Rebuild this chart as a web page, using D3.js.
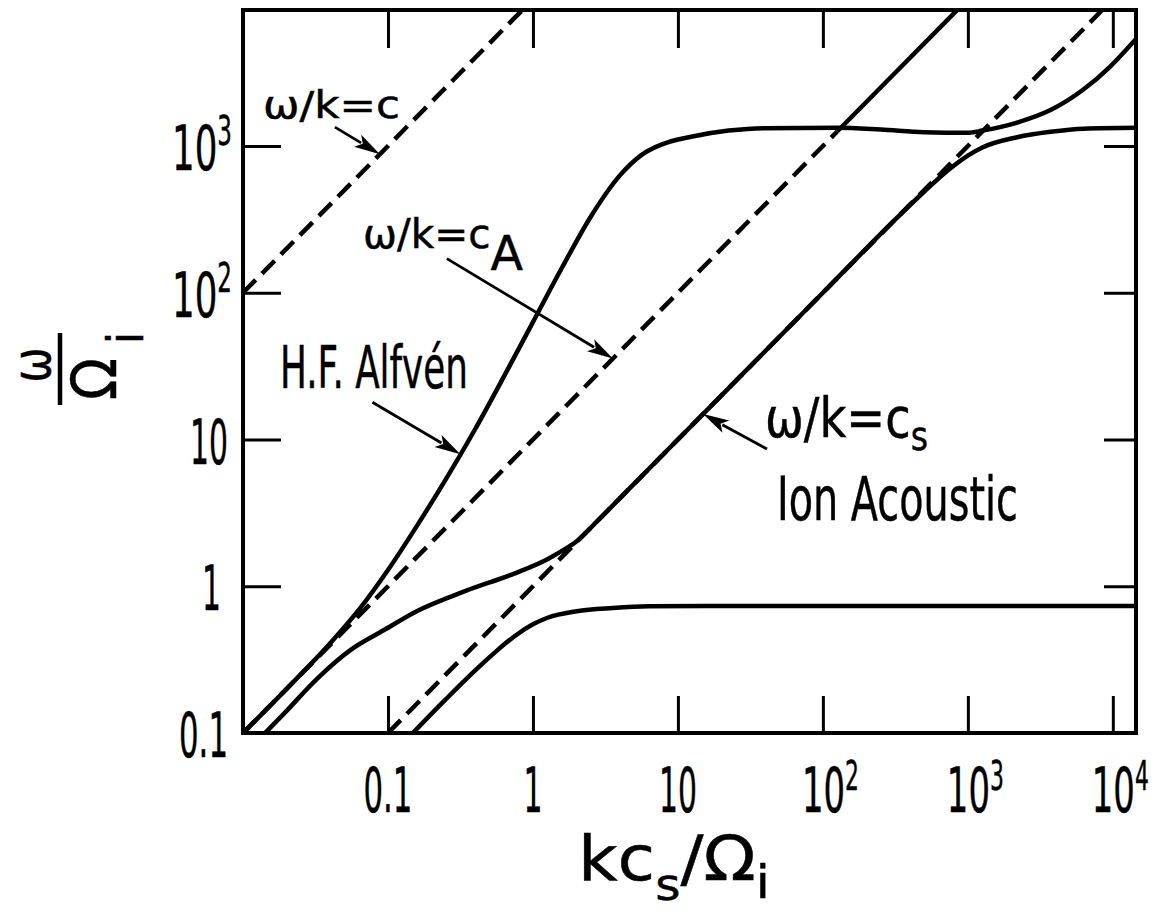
<!DOCTYPE html>
<html>
<head>
<meta charset="utf-8">
<script src="https://cdn.jsdelivr.net/npm/d3@7"></script>
<style>
  html, body { margin: 0; padding: 0; background: #fff; }
  svg { display: block; }
  text { font-family: "DejaVu Sans", "Liberation Sans", sans-serif; fill: #000; stroke: #000; stroke-width: 0.5; }
</style>
</head>
<body>
<svg id="chart" width="1154" height="911"></svg>
<script>
// ---- dispersion branches: k c_s / Ω_i  and  ω / Ω_i ----
const alfvenK = [0.01, 0.02, 0.0398, 0.0631, 0.1, 0.158, 0.251, 0.398, 0.631, 1, 1.585, 2.51, 3.98, 5.62, 7.94, 12.6, 22.4, 39.8, 126, 251, 501, 1000, 1259, 2188, 3715, 6166, 9550, 14450];
const alfvenW = [0.1, 0.2, 0.407, 0.692, 1.29, 2.57, 5.37, 11.7, 26.9, 63.1, 148, 331, 631, 871, 1035, 1161, 1274, 1324, 1330, 1294, 1242, 1230, 1274, 1445, 1758, 2399, 3467, 5370];

const ionAcousticK = [0.0142, 0.0191, 0.0324, 0.055, 0.0933, 0.158, 0.347, 0.759, 1.259, 1.585, 1.995, 2.82, 5, 10, 31.6, 100, 316, 501, 741, 1000, 1259, 2188, 3715, 6310, 14450];
const ionAcousticW = [0.1, 0.135, 0.234, 0.367, 0.501, 0.676, 0.933, 1.23, 1.53, 1.74, 2.02, 2.82, 5, 10, 31.6, 100, 316, 490, 692, 861, 977, 1148, 1250, 1312, 1330];

const lowerK = [0.1486, 0.251, 0.398, 0.562, 0.759, 1, 1.26, 2.0, 3.55, 6.3, 15.8, 14450];
const lowerW = [0.1, 0.17, 0.266, 0.363, 0.462, 0.55, 0.61, 0.676, 0.711, 0.73, 0.733, 0.733];

// ---- phase-velocity reference lines (end points) ----
const lightLineK = [0.01, 1];          // ω/k = c
const lightLineW = [100, 10000];
const alfvenLineK = [0.01, 126];       // ω/k = c_A (dashed part)
const alfvenLineW = [0.1, 1260];
const alfvenUpperK = [126, 1000];      // ω/k = c_A above the resonance (solid)
const alfvenUpperW = [1260, 10000];
const soundLineK = [0.1, 10000];       // ω/k = c_s
const soundLineW = [0.1, 10000];

// ---- axes ----
const xTicks = [0.1, 1, 10, 100, 1000, 10000];
const xTickLabels = [["0.1", ""], ["1", ""], ["10", ""], ["10", "2"], ["10", "3"], ["10", "4"]];
const yTicks = [0.1, 1, 10, 100, 1000];
const yTickLabels = [["0.1", ""], ["1", ""], ["10", ""], ["10", "2"], ["10", "3"]];

(function draw() {
  const zip = (a, b) => a.map((v, i) => [v, b[i]]);

  const svg = d3.select("#chart");
  const pLeft = 243, pRight = 1136, pTop = 10, pBottom = 733;

  const x = d3.scaleLog().domain([0.01, 14450]).range([pLeft, pRight]);
  const y = d3.scaleLog().domain([0.1, 8450]).range([pBottom, pTop]);

  svg.append("defs").append("clipPath").attr("id", "plot-clip")
    .append("rect").attr("x", pLeft).attr("y", pTop)
    .attr("width", pRight - pLeft).attr("height", pBottom - pTop);

  const plot = svg.append("g").attr("clip-path", "url(#plot-clip)");

  const straight = d3.line().x(d => x(d[0])).y(d => y(d[1]));
  const smooth = d3.line().x(d => x(d[0])).y(d => y(d[1])).curve(d3.curveMonotoneX);

  // dashed phase-velocity lines
  [[lightLineK, lightLineW], [alfvenLineK, alfvenLineW], [soundLineK, soundLineW]].forEach(([k, w]) => {
    plot.append("path").attr("d", straight(zip(k, w)))
      .attr("fill", "none").attr("stroke", "#000").attr("stroke-width", 4.5)
      .attr("stroke-dasharray", "18,9");
  });

  // solid branches
  plot.append("path").attr("d", straight(zip(alfvenUpperK, alfvenUpperW)))
    .attr("fill", "none").attr("stroke", "#000").attr("stroke-width", 4.5);

  [[alfvenK, alfvenW], [ionAcousticK, ionAcousticW], [lowerK, lowerW]].forEach(([k, w]) => {
    plot.append("path").attr("d", smooth(zip(k, w)))
      .attr("fill", "none").attr("stroke", "#000").attr("stroke-width", 4.5)
      .attr("stroke-linejoin", "round");
  });

  // frame
  svg.append("rect").attr("x", pLeft).attr("y", pTop)
    .attr("width", pRight - pLeft).attr("height", pBottom - pTop)
    .attr("fill", "none").attr("stroke", "#000").attr("stroke-width", 4);

  // inward ticks on all four sides
  function tickAxis(axis, tx, ty) {
    const g = svg.append("g").attr("transform", `translate(${tx},${ty})`).call(axis);
    g.select(".domain").remove();
    g.selectAll(".tick line").attr("stroke", "#000").attr("stroke-width", 3);
    g.selectAll(".tick text").remove();
  }
  tickAxis(d3.axisBottom(x).tickValues(xTicks).tickSize(-37).tickFormat(""), 0, pBottom);
  tickAxis(d3.axisTop(x).tickValues(xTicks).tickSize(-38).tickFormat(""), 0, pTop);
  tickAxis(d3.axisLeft(y).tickValues(yTicks.slice(1)).tickSize(-38).tickFormat(""), pLeft, 0);
  tickAxis(d3.axisRight(y).tickValues(yTicks.slice(1)).tickSize(-32).tickFormat(""), pRight, 0);

  // narrow lettering: each label is one <text>, squeezed horizontally to a set width;
  // parts = [[string, fontSize, dy], ...]
  function label(g, parts, xPos, yPos, anchor, len) {
    const t = g.append("text").attr("transform", `translate(${xPos},${yPos})`);
    parts.forEach(([s, size, dy]) => {
      t.append("tspan").attr("font-size", size).attr("dy", dy || 0).text(s);
    });
    const natural = t.node().getComputedTextLength();
    const w = len || natural;
    const sx = w / natural;
    const shift = anchor === "end" ? -w : anchor === "middle" ? -w / 2 : 0;
    t.attr("transform", `translate(${xPos + shift},${yPos}) scale(${sx},1)`);
    return t;
  }
  const charW = c => (c === "." ? 11 : 19);
  const strW = s => [...s].reduce((a, c) => a + charW(c), 0);

  const labels = svg.append("g");
  yTicks.forEach((v, i) => {
    const [base, sup] = yTickLabels[i];
    const by = y(v) + 24;
    if (sup) {
      label(labels, [[base, 62], [sup, 40, -25]], 232, by, "end", strW(base) + 22);
    } else {
      label(labels, [[base, 62]], base === "1" ? 221 : 228, by, "end", strW(base));
    }
  });

  xTicks.forEach((v, i) => {
    const [base, sup] = xTickLabels[i];
    const w = strW(base);
    const start = x(v) - w / 2;
    if (sup) label(labels, [[base, 62], [sup, 40, -22]], start - 2, 812, "start", w + 19);
    else label(labels, [[base, 62]], start, 812, "start", w);
  });

  // axis titles
  label(svg, [["kc", 62], ["s", 44, 20], ["/", 62, -20], ["Ω", 62], ["i", 46, 18]], 578, 880, "start", 192);

  const yt = svg.append("g").attr("transform", "translate(60,369) rotate(-90)");
  label(yt, [["ω", 53]], 4, -10, "middle", 35);
  yt.append("line").attr("x1", -36).attr("x2", 36).attr("y1", 0).attr("y2", 0)
    .attr("stroke", "#000").attr("stroke-width", 4.5);
  label(yt, [["Ω", 63]], -31, 56, "start", 42);
  label(yt, [["i", 49]], 31, 83, "middle", 12);

  // curve annotations
  const notes = svg.append("g");
  label(notes, [["ω/k=c", 37]], 263, 118, "start", 137);
  label(notes, [["ω/k=c", 41], ["A", 48, 22]], 363, 248, "start", 160);
  label(notes, [["H.F. Alfvén", 59]], 280, 388, "start", 188);
  label(notes, [["ω/k=c", 56], ["s", 40, 13]], 765, 437, "start", 163);
  label(notes, [["Ion Acoustic", 60]], 777, 520, "start", 241);

  // arrows: tip placed on a curve (data coordinates), tail offset in pixels
  const arrowTips = [
    { k: 0.088, w: 880, dx: -45, dy: -27 },
    { k: 0.316, w: 7.94, dx: -88, dy: -52 },
    { k: 3.56, w: 35.6, dx: -166, dy: -100 },
    { k: 14.9, w: 14.9, dx: 64, dy: 35 }
  ];
  arrowTips.forEach(a => {
    const tx = x(a.k), ty = y(a.w);
    const sx = tx + a.dx, sy = ty + a.dy;
    const len = Math.hypot(a.dx, a.dy);
    const ux = -a.dx / len, uy = -a.dy / len;
    const head = 26, half = 7;
    const bx = tx - ux * head, by = ty - uy * head;
    notes.append("line").attr("x1", sx).attr("y1", sy)
      .attr("x2", bx + ux * 4).attr("y2", by + uy * 4)
      .attr("stroke", "#000").attr("stroke-width", 2.8);
    notes.append("path")
      .attr("d", `M${tx},${ty}L${bx - uy * half},${by + ux * half}L${bx + ux * 6},${by + uy * 6}L${bx + uy * half},${by - ux * half}Z`)
      .attr("fill", "#000");
  });
})();
</script>
</body>
</html>
